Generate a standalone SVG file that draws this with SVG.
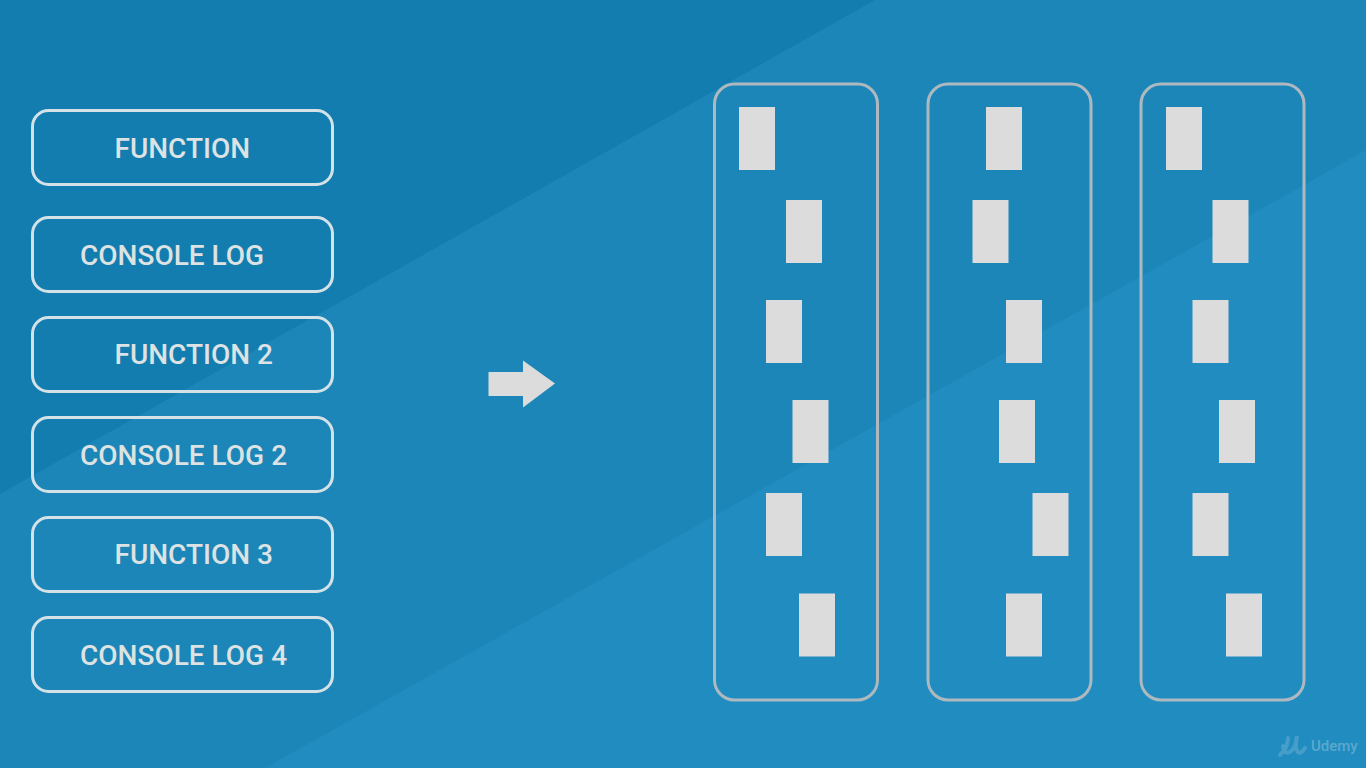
<svg xmlns="http://www.w3.org/2000/svg" width="1366" height="768" viewBox="0 0 1366 768">
<style>
.box{fill:none;stroke:#d4e2e7;stroke-width:3}
.col{fill:none;stroke:#adb9bf;stroke-width:3}
.b{fill:#dcdcdc}
text{font-family:Roboto,"Liberation Sans",sans-serif;font-size:28px;font-weight:500;fill:#dde2e3}
</style>
<rect width="1366" height="768" fill="#137db0"/>
<polygon points="0,494 875,0 1366,0 1366,768 0,768" fill="#1c86b8"/>
<polygon points="265,768 1366,150 1366,768" fill="#208cc0"/>
<g id="n1"><rect class="box" x="32.500" y="110.500" width="300" height="74" rx="16"/><text x="114.500" y="157.500">FUNCTION</text></g>
<g id="n2"><rect class="box" x="32.500" y="217.500" width="300" height="74" rx="16"/><text x="80" y="265">CONSOLE LOG</text></g>
<g id="n3"><rect class="box" x="32.500" y="317.500" width="300" height="74" rx="16"/><text x="114.500" y="364">FUNCTION 2</text></g>
<g id="n4"><rect class="box" x="32.500" y="417.500" width="300" height="74" rx="16"/><text x="80" y="465">CONSOLE LOG 2</text></g>
<g id="n5"><rect class="box" x="32.500" y="517.500" width="300" height="74" rx="16"/><text x="114.500" y="564">FUNCTION 3</text></g>
<g id="n6"><rect class="box" x="32.500" y="617.500" width="300" height="74" rx="16"/><text x="80" y="665">CONSOLE LOG 4</text></g>
<g id="arrow"><polygon class="b" points="488.500,372 523,372 523,360.500 555,383.500 523,407.500 523,396 488.500,396"/></g>
<g id="col1"><rect class="col" x="714.500" y="84" width="163" height="616" rx="20"/>
<rect class="b" x="739" y="107" width="36" height="63"/><rect class="b" x="786" y="200" width="36" height="63"/><rect class="b" x="766" y="300" width="36" height="63"/><rect class="b" x="792.500" y="400" width="36" height="63"/><rect class="b" x="766" y="493" width="36" height="63"/><rect class="b" x="799" y="593.500" width="36" height="63"/></g>
<g id="col2"><rect class="col" x="928" y="84" width="163" height="616" rx="20"/>
<rect class="b" x="986" y="107" width="36" height="63"/><rect class="b" x="972.500" y="200" width="36" height="63"/><rect class="b" x="1006" y="300" width="36" height="63"/><rect class="b" x="999" y="400" width="36" height="63"/><rect class="b" x="1032.500" y="493" width="36" height="63"/><rect class="b" x="1006" y="593.500" width="36" height="63"/></g>
<g id="col3"><rect class="col" x="1141" y="84" width="163" height="616" rx="20"/>
<rect class="b" x="1166" y="107" width="36" height="63"/><rect class="b" x="1212.500" y="200" width="36" height="63"/><rect class="b" x="1192.500" y="300" width="36" height="63"/><rect class="b" x="1219" y="400" width="36" height="63"/><rect class="b" x="1192.500" y="493" width="36" height="63"/><rect class="b" x="1226" y="593.500" width="36" height="63"/></g>
<g id="logo" opacity="0.4"><path d="M1280 755 Q1288 748 1288 738 M1283 746 Q1284 755 1290 752 Q1296 748 1297 736 Q1294 750 1299 753 Q1302 753 1305 748" fill="none" stroke="#7fb8d6" stroke-width="4" stroke-linecap="round"/><text x="1311" y="751" style="font-size:15px;fill:#b5d3e3">Udemy</text></g>
</svg>
